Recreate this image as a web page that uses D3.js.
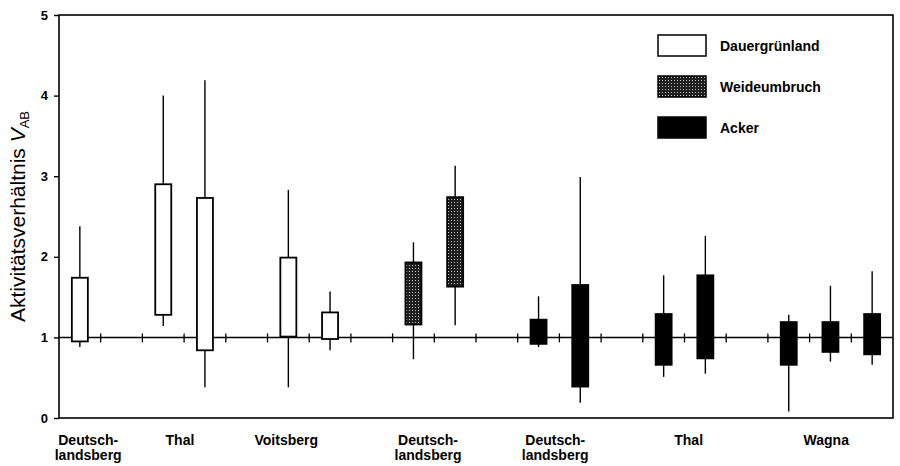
<!DOCTYPE html>
<html lang="de">

<head>
    <meta charset="utf-8">
    <title>Aktivitätsverhältnis</title>
    <script type="text/javascript" src="https://d3js.org/d3.v7.min.js"></script>
    <style>
        body { margin: 0; background: #fff; }
        text { font-family: "Liberation Sans", Arial, Helvetica, sans-serif; fill: #000; }
    </style>
</head>

<body>
    <div id="container"></div>
    <script type="text/javascript">
        // slot index of each box along the x axis (20 slots, some empty)
        var slots = [0, 2, 3, 5, 6, 8, 9, 11, 12, 14, 15, 17, 18, 19];
        var treatment = ["Dauergrünland", "Dauergrünland", "Dauergrünland", "Dauergrünland", "Dauergrünland",
            "Weideumbruch", "Weideumbruch",
            "Acker", "Acker", "Acker", "Acker", "Acker", "Acker", "Acker"];
        var boxTop = [1.74, 2.90, 2.73, 1.99, 1.31, 1.93, 2.74, 1.22, 1.65, 1.29, 1.77, 1.19, 1.19, 1.29];
        var boxBottom = [0.95, 1.28, 0.84, 1.01, 0.98, 1.16, 1.63, 0.92, 0.39, 0.66, 0.74, 0.66, 0.82, 0.79];
        var whiskerTop = [2.38, 4.00, 4.19, 2.83, 1.57, 2.18, 3.13, 1.51, 2.99, 1.77, 2.26, 1.28, 1.64, 1.82];
        var whiskerBottom = [0.88, 1.14, 0.38, 0.38, 0.84, 0.73, 1.15, 0.88, 0.19, 0.51, 0.55, 0.08, 0.70, 0.66];

        // site labels under the axis, anchored in slot units
        var siteLabels = [["Deutsch-", "landsberg"], ["Thal"], ["Voitsberg"], ["Deutsch-", "landsberg"],
            ["Deutsch-", "landsberg"], ["Thal"], ["Wagna"]];
        var siteSlot = [0.2, 2.4, 4.95, 8.35, 11.4, 14.6, 17.9];

        var legendItems = ["Dauergrünland", "Weideumbruch", "Acker"];
        var yTicks = [0, 1, 2, 3, 4, 5];

        var w = 900, h = 466;
        var margin = { top: 15, right: 7, bottom: 48, left: 59 };

        const svg = d3.select("div#container")
            .append("svg")
            .attr("width", w)
            .attr("height", h);

        var defs = svg.append("defs");
        var pat = defs.append("pattern")
            .attr("id", "stipple")
            .attr("patternUnits", "userSpaceOnUse")
            .attr("width", 3).attr("height", 3);
        pat.append("rect").attr("width", 3).attr("height", 3).attr("fill", "#1e1e1e");
        pat.append("rect").attr("x", 1).attr("y", 1).attr("width", 1).attr("height", 1).attr("fill", "#bdbdbd");

        var fills = { "Dauergrünland": "#fff", "Weideumbruch": "url(#stipple)", "Acker": "#000" };

        var x = d3.scaleLinear().domain([-0.5, 19.5]).range([margin.left, w - margin.right]);
        var y = d3.scaleLinear().domain([0, 5]).range([h - margin.bottom, margin.top]);

        // frame
        svg.append("rect")
            .attr("x", x(-0.5)).attr("y", y(5))
            .attr("width", x(19.5) - x(-0.5)).attr("height", y(0) - y(5))
            .attr("fill", "none").attr("stroke", "#000").attr("stroke-width", 1.6);

        // y axis
        var yAxis = svg.append("g")
            .attr("transform", "translate(" + x(-0.5) + ",0)")
            .call(d3.axisLeft(y).tickValues(yTicks).tickSize(5).tickPadding(6).tickFormat(d3.format("d")));
        yAxis.select(".domain").remove();
        yAxis.selectAll("line").attr("stroke-width", 1.4);
        yAxis.selectAll("text")
            .style("font-size", "13px").style("font-weight", "bold")
            .style("font-family", "'Liberation Sans', Arial, sans-serif");

        // y title
        var title = svg.append("text")
            .attr("transform", "translate(25," + ((y(0) + y(5)) / 2) + ") rotate(-90)")
            .attr("text-anchor", "middle")
            .style("font-size", "21px");
        title.append("tspan").text("Aktivitätsverhältnis ");
        title.append("tspan").style("font-style", "italic").text("V");
        title.append("tspan").attr("dy", 4).style("font-size", "13px").text("AB");

        // reference line at 1 with slot ticks
        svg.append("line")
            .attr("x1", x(-0.5)).attr("x2", x(19.5))
            .attr("y1", y(1)).attr("y2", y(1))
            .attr("stroke", "#000").attr("stroke-width", 1.5);
        svg.selectAll("line.slot")
            .data(d3.range(19))
            .enter()
            .append("line")
            .attr("class", "slot")
            .attr("x1", (d) => x(d + 0.5)).attr("x2", (d) => x(d + 0.5))
            .attr("y1", y(1) - 4).attr("y2", y(1) + 5)
            .attr("stroke", "#000").attr("stroke-width", 1.3);

        var boxes = slots.map((s, i) => ({
            slot: s, kind: treatment[i], top: boxTop[i], bottom: boxBottom[i],
            wTop: whiskerTop[i], wBottom: whiskerBottom[i]
        }));
        var bw = 16;

        // whiskers
        svg.selectAll("line.whisker")
            .data(boxes)
            .enter()
            .append("line")
            .attr("class", "whisker")
            .attr("x1", (d) => x(d.slot)).attr("x2", (d) => x(d.slot))
            .attr("y1", (d) => y(d.wTop)).attr("y2", (d) => y(d.wBottom))
            .attr("stroke", "#000").attr("stroke-width", 1.4);

        // boxes
        svg.selectAll("rect.box")
            .data(boxes)
            .enter()
            .append("rect")
            .attr("class", "box")
            .attr("x", (d) => x(d.slot) - bw / 2)
            .attr("width", bw)
            .attr("y", (d) => y(d.top))
            .attr("height", (d) => y(d.bottom) - y(d.top))
            .attr("fill", (d) => fills[d.kind])
            .attr("stroke", "#000").attr("stroke-width", 1.8);

        // site labels
        var lab = svg.selectAll("text.site")
            .data(siteLabels)
            .enter()
            .append("text")
            .attr("class", "site")
            .attr("text-anchor", "middle")
            .attr("x", (d, i) => x(siteSlot[i]))
            .attr("y", y(0) + 27)
            .style("font-size", "14px").style("font-weight", "bold");
        lab.selectAll("tspan")
            .data((d) => d)
            .enter()
            .append("tspan")
            .attr("x", function () { return this.parentNode.getAttribute("x"); })
            .attr("dy", (d, i) => i === 0 ? 0 : 14.5)
            .text((d) => d);

        // legend
        var leg = svg.selectAll("g.legend")
            .data(legendItems)
            .enter()
            .append("g")
            .attr("class", "legend")
            .attr("transform", (d, i) => "translate(658," + (35 + i * 41) + ")");
        leg.append("rect")
            .attr("width", 48).attr("height", 21)
            .attr("fill", (d) => fills[d])
            .attr("stroke", "#000").attr("stroke-width", 1.5);
        leg.append("text")
            .attr("x", 62).attr("y", 16)
            .style("font-size", "14px").style("font-weight", "bold")
            .text((d) => d);
    </script>
</body>

</html>
